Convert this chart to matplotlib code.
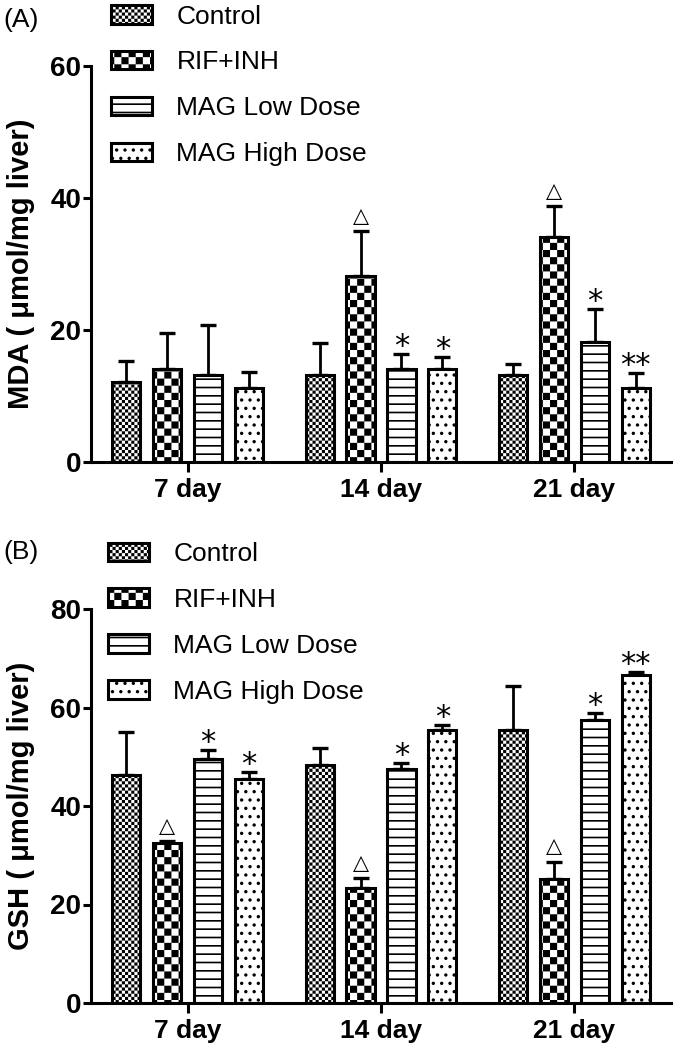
import numpy as np
import matplotlib
matplotlib.use('Agg')
import matplotlib.pyplot as plt
from matplotlib import hatch as mhatch
from matplotlib.path import Path

days = ['7 day', '14 day', '21 day']
groups = ['Control', 'RIF+INH', 'MAG Low Dose', 'MAG High Dose']

# panel A, MDA
mda_mean = [[12.1, 13.2, 13.2],
            [14.1, 28.2, 34.1],
            [13.2, 14.1, 18.2],
            [11.2, 14.1, 11.2]]
mda_err = [[3.2, 4.8, 1.6],
           [5.4, 6.8, 4.7],
           [7.6, 2.3, 5.0],
           [2.4, 1.8, 2.3]]
mda_marks = [['', '', ''],
             ['', '△', '△'],
             ['', '*', '*'],
             ['', '*', '**']]

# panel B, GSH
gsh_mean = [[46.3, 48.4, 55.5],
            [32.5, 23.4, 25.2],
            [49.6, 47.6, 57.5],
            [45.5, 55.5, 66.5]]
gsh_err = [[8.8, 3.4, 8.9],
           [0.4, 2.0, 3.5],
           [1.8, 1.2, 1.4],
           [1.5, 1.0, 0.8]]
gsh_marks = [['', '', ''],
             ['△', '△', '△'],
             ['*', '*', '*'],
             ['*', '*', '**']]

hatches = ['x', 'X', '--', '..']

plt.rcParams['font.family'] = ['Liberation Sans', 'DejaVu Sans']
plt.rcParams['hatch.linewidth'] = 1.2
plt.rcParams['hatch.color'] = 'black'


class CheckerHatch(mhatch.HatchPatternBase):
    # 'x' = fine checkerboard, 'X' = coarse checkerboard
    def __init__(self, hatch, density):
        self.n = hatch.count('x') * 32 + hatch.count('X') * 14
        self.num_vertices = (self.n * self.n // 2) * 5

    def set_vertices_and_codes(self, vertices, codes):
        step = 1.0 / self.n
        shrink = plt.rcParams['hatch.linewidth'] / 144
        k = 0
        for i in range(self.n):
            for j in range(self.n):
                if (i + j) % 2:
                    continue
                x0, y0 = i * step + shrink, j * step + shrink
                x1, y1 = (i + 1) * step - shrink, (j + 1) * step - shrink
                vertices[k:k + 5] = [[x0, y0], [x1, y0], [x1, y1], [x0, y1], [x0, y0]]
                codes[k:k + 5] = [Path.MOVETO, Path.LINETO, Path.LINETO, Path.LINETO, Path.CLOSEPOLY]
                k += 5


mhatch._hatch_types = [h for h in mhatch._hatch_types
                       if h not in (mhatch.NorthEastHatch, mhatch.SouthEastHatch)] + [CheckerHatch]

W, H = 680, 1054
fig = plt.figure(figsize=(W / 100, H / 100), dpi=100)

width = 0.145
spacing = 0.212


def draw_panel(rect, means, errs, marks, ymax, ylabel, tag, tag_y, leg_xy):
    ax = fig.add_axes(rect)
    x = np.arange(len(days))
    for k in range(len(groups)):
        pos = x + (k - 1.5) * spacing
        ax.bar(pos, means[k], width, color='white', edgecolor='black', linewidth=2.2,
               hatch=hatches[k], label=groups[k], zorder=2)
        ax.errorbar(pos, means[k], yerr=[np.zeros(len(days)), errs[k]], fmt='none',
                    ecolor='black', elinewidth=2.0, capsize=6, capthick=2.4, zorder=1)
        for p, m, e, s in zip(pos, means[k], errs[k], marks[k]):
            if s == '△':
                ax.annotate(s, (p, m + e), xytext=(0, 11), textcoords='offset points',
                            ha='center', va='center', fontsize=15, family='DejaVu Sans')
            elif s:
                ax.annotate(s, (p, m + e), xytext=(0, -1), textcoords='offset points',
                            ha='center', va='baseline', fontsize=22, family='DejaVu Sans')

    ax.set_xlim(-0.5, 2.5)
    ax.set_ylim(0, ymax)
    ax.set_yticks(np.arange(0, ymax + 1, 20))
    ax.set_xticks(x)
    ax.set_xticklabels(days, fontsize=19, fontweight='bold')
    for lab in ax.get_yticklabels():
        lab.set_fontsize(20)
        lab.set_fontweight('bold')
    for s in ['top', 'right']:
        ax.spines[s].set_visible(False)
    for s in ['left', 'bottom']:
        ax.spines[s].set_linewidth(2.2)
    ax.tick_params(axis='y', length=6, width=2.2, pad=1)
    ax.tick_params(axis='x', length=7.5, width=2.2, pad=4)
    ax.set_ylabel(ylabel, fontsize=21, fontweight='bold')
    ax.yaxis.set_label_coords(-0.097, 0.5)

    ax.legend(loc='upper left', bbox_to_anchor=leg_xy, bbox_transform=fig.transFigure,
              frameon=False, fontsize=19, handlelength=1.55, handleheight=0.7,
              handletextpad=0.93, labelspacing=0.83, borderpad=0, borderaxespad=0)
    fig.text(3 / W, 1 - tag_y / H, tag, fontsize=19, va='center', ha='left')
    return ax


draw_panel([91 / W, 1 - 462 / H, 580 / W, 396 / H], mda_mean, mda_err, mda_marks, 60,
           'MDA ( μmol/mg liver)', '(A)', 20, (111 / W, 1 - 4.5 / H))
draw_panel([91 / W, 1 - 1003 / H, 580 / W, 394 / H], gsh_mean, gsh_err, gsh_marks, 80,
           'GSH ( μmol/mg liver)', '(B)', 552, (108 / W, 1 - 542 / H))

fig.savefig('out.png', dpi=100)
